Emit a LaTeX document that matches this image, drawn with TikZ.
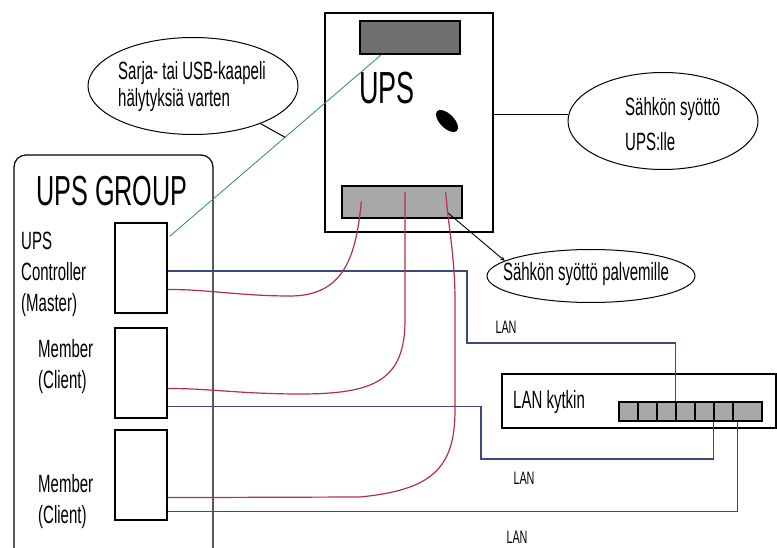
\documentclass[tikz,border=0pt]{standalone}
\usepackage{fontspec}
\setmainfont[FakeStretch=0.6]{Liberation Sans}
\usetikzlibrary{arrows,positioning,calc,shapes.geometric}
\definecolor{lanblue}{HTML}{3C4A78}
\definecolor{powred}{HTML}{B4304A}
\definecolor{usbgreen}{HTML}{3A9D5D}
\newcommand{\txtsize}{\fontsize{25}{31}\selectfont}
\newcommand{\lansize}{\fontsize{18}{18}\selectfont}

\begin{document}
\begin{tikzpicture}[x=1pt,y=-1pt,every node/.style={inner sep=0pt},
  box/.style={draw,line width=1.2pt},
  bubble/.style={draw,ellipse,line width=1pt},
  lan/.style={color=lanblue,line width=1.1pt},
  power/.style={color=powred,line width=1.2pt},
  usb/.style={color=usbgreen,line width=0.9pt}]
\clip (0,0) rectangle (777,548);
\fill[white] (0,0) rectangle (777,548);
% UPS
\node[box,minimum width=168,minimum height=219] (ups) at (409,122.5) {};
\node[box,fill=black!56,minimum width=100,minimum height=33] (topbar) at (410,37.5) {};
\node[box,fill=black!34,minimum width=120,minimum height=32] (botbar) at (402,202) {};
\node[font=\fontsize{45}{45}\selectfont] (upstxt) at (387,88) {UPS};
\fill[rotate around={-45:(447,121)}] (447,121) ellipse (14 and 7);
% UPS GROUP
\node[box,rounded corners=12,minimum width=199,minimum height=415] (group) at (113.5,362.5) {};
\node[font=\fontsize{42}{42}\selectfont] (grouptxt) at (112,191) {UPS GROUP};
\node[box,minimum width=52,minimum height=90] (ctrl) at (141,268) {};
\node[box,minimum width=52,minimum height=90] (mem1) at (141,373) {};
\node[box,minimum width=52,minimum height=90] (mem2) at (141,475) {};
\node[anchor=west,align=left,font=\txtsize] (ctrltxt) at (21,274) {UPS\\Controller\\(Master)};
\node[anchor=west,align=left,font=\txtsize] (mem1txt) at (38,367) {Member\\(Client)};
\node[anchor=west,align=left,font=\txtsize] (mem2txt) at (38,502) {Member\\(Client)};
% bubbles
\node[bubble,minimum width=210,minimum height=97] (sarja) at (193,86) {};
\node[align=left,font=\fontsize{25}{27}\selectfont] (sarjatxt) at (192,87) {Sarja- tai USB-kaapeli\\hälytyksiä varten};
\node[bubble,minimum width=190,minimum height=97] (syotto) at (663,121) {};
\node[anchor=west,align=left,font=\fontsize{25}{35}\selectfont] (syottotxt) at (625,124) {Sähkön syöttö\\UPS:lle};
\node[bubble,minimum width=208,minimum height=53] (palv) at (591,276) {};
\node[font=\txtsize] (palvtxt) at (586,274) {Sähkön syöttö palvemille};
% switch
\node[box,minimum width=274,minimum height=54] (switch) at (639,401) {};
\node[anchor=west,font=\txtsize] (swtxt) at (513,402) {LAN kytkin};
\foreach \i in {1,...,6}
  \node[box,fill=black!34,minimum width=19,minimum height=19] (port\i) at (609.5+19*\i,411.5) {};
\node[box,fill=black!34,minimum width=29,minimum height=19] (port7) at (747.5,411.5) {};
\node[font=\lansize] (lan1) at (506,327) {LAN};
\node[font=\lansize] (lan2) at (524,478) {LAN};
\node[font=\lansize] (lan3) at (517,537) {LAN};
% cables
\draw[usb] ($(ctrl.north east)+(2,14)$) -- coordinate[pos=0.545] (usbmid) ($(topbar.south west)+(22,0)$);
\draw[line width=1pt] (sarja) -- (usbmid);
\draw[line width=1pt] (syotto.176) -- (ups.east |- syotto.176);
\draw[line width=0.9pt,-stealth] ($(botbar.south east)+(-15,-6)$) -- (palv.170);
\draw[lan] ($(ctrl.east)+(0,3)$) -| (467,343) -| (port4.north west);
\draw[lan] ($(mem1.south east)+(0,-12)$) -| (481,459) -| (port6.south west);
\draw[lan] ($(mem2.south east)+(0,-9)$) -| ($(port7.south west)+(5,0)$);
\draw[power] ($(botbar.north west)+(20,16)$) .. controls (356,255) and (345,296) .. (290,296) .. controls (240,296) and (205,289) .. ($(ctrl.south east)+(0,-24)$);
\draw[power] ($(botbar.north)+(3,7)$) -- (405,320) .. controls (405,380) and (375,394) .. (300,394) .. controls (240,394) and (205,388) .. ($(mem1.south east)+(0,-30)$);
\draw[power] ($(botbar.north east)+(-17,7)$) .. controls (449,230) and (455,260) .. (455,300) -- (455,410) .. controls (455,470) and (430,490) .. (360,497) -- ($(mem2.south east)+(0,-23)$);
\end{tikzpicture}
\end{document}
